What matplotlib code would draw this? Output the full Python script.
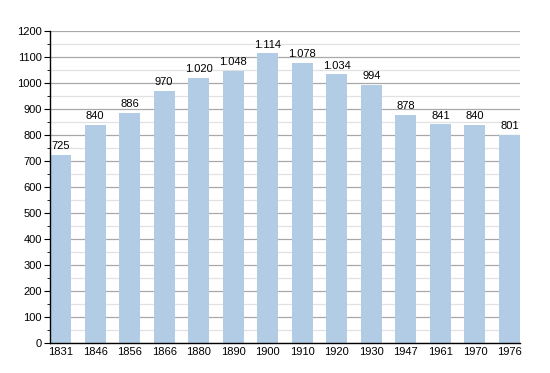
import matplotlib
matplotlib.use("Agg")
import matplotlib.pyplot as plt
from matplotlib.ticker import MultipleLocator

plt.rcParams['font.family'] = ['Liberation Sans', 'DejaVu Sans']

years = ["1831", "1846", "1856", "1866", "1880", "1890", "1900", "1910",
         "1920", "1930", "1947", "1961", "1970", "1976"]
population = [725, 840, 886, 970, 1020, 1048, 1114, 1078, 1034, 994, 878, 841, 840, 801]

fig = plt.figure(figsize=(5.5, 3.73), dpi=100)
ax = fig.add_axes([50/550, 30/373, 470/550, 312/373])

width = 0.61
pos = list(range(len(years)))
ax.bar(pos, population, width=width, align='edge', color='#b3cce6', zorder=2)

ax.set_xlim(0, len(years) - 1 + width)
ax.set_ylim(0, 1200)
ax.yaxis.set_major_locator(MultipleLocator(100))
ax.yaxis.set_minor_locator(MultipleLocator(50))
ax.grid(axis='y', which='major', color='#a8a8a8', linewidth=0.9, zorder=0)
ax.grid(axis='y', which='minor', color='#e2e2e2', linewidth=0.9, zorder=0)

ax.set_xticks([p + width/2 for p in pos])
ax.set_xticklabels(years, fontsize=8)
ax.tick_params(axis='x', length=0, pad=3)
ax.tick_params(axis='y', which='major', length=4, labelsize=8, pad=2)
ax.tick_params(axis='y', which='minor', length=2)

for s in ['top', 'right']:
    ax.spines[s].set_visible(False)
ax.spines['left'].set_linewidth(1.0)
ax.spines['bottom'].set_linewidth(1.0)

def fmt(v):
    return f"{v:,}".replace(",", ".")

for p, v in zip(pos, population):
    ax.text(p + width/2, v + 14, fmt(v), ha='center', va='bottom', fontsize=8)

fig.savefig("out.png", dpi=100)
